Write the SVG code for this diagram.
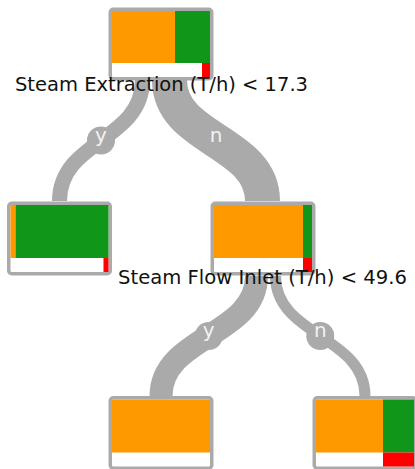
<svg xmlns="http://www.w3.org/2000/svg" width="415" height="469" viewBox="0 0 415 469">
  <style>
    .edge { fill: none; stroke: #aaaaaa; stroke-linecap: butt; }
    .knot { fill: #aaaaaa; }
    .edge-label { font-family: "DejaVu Sans", Verdana, sans-serif; font-size: 20px; fill: #f2f2f2; text-anchor: middle; }
    .frame { fill: #ffffff; stroke: #aaaaaa; stroke-width: 3.5; }
    .c-a { fill: #ff9900; }
    .c-b { fill: #109618; }
    .c-c { fill: #ff0000; }
    .split { font-family: "DejaVu Sans", Verdana, sans-serif; font-size: 19.5px; fill: #111111; }
  </style>

  <!-- connectors: stroke width follows the sample count of each branch -->
  <g id="connectors">
    <path class="edge" stroke-width="15" d="M142.5,80 C142.5,140.5 59.5,140.5 59.5,201"/>
    <path class="edge" stroke-width="35" d="M169.5,80 C169.5,140.5 262.5,140.5 262.5,201"/>
    <path class="edge" stroke-width="23" d="M256.5,276 C256.5,336 161,336 161,396"/>
    <path class="edge" stroke-width="11" d="M275.5,276 C275.5,336 365,336 365,396"/>
    <circle class="knot" cx="101" cy="140.5" r="14"/>
    <circle class="knot" cx="216" cy="140.5" r="14"/>
    <circle class="knot" cx="208.75" cy="336" r="14"/>
    <circle class="knot" cx="320.25" cy="336" r="14"/>
    <text class="edge-label" x="101" y="141.5">y</text>
    <text class="edge-label" x="216" y="141.5">n</text>
    <text class="edge-label" x="208.75" y="337">y</text>
    <text class="edge-label" x="320.25" y="337">n</text>
  </g>

  <!-- root split -->
  <g id="node-root">
    <rect class="frame" x="110.25" y="9.25" width="101.5" height="69.5" rx="3"/>
    <rect class="c-a" x="112" y="11" width="63" height="52"/>
    <rect class="c-b" x="175" y="11" width="35" height="52"/>
    <rect class="c-c" x="202" y="63" width="8" height="14"/>
    <text class="split" x="15" y="91" textLength="293" lengthAdjust="spacingAndGlyphs">Steam Extraction (T/h) &lt; 17.3</text>
  </g>

  <!-- left leaf -->
  <g id="node-left">
    <rect class="frame" x="8.75" y="203.25" width="101.5" height="70.5" rx="3"/>
    <rect class="c-a" x="10.5" y="205" width="5" height="53"/>
    <rect class="c-b" x="15.5" y="205" width="93" height="53"/>
    <rect class="c-c" x="103.5" y="258" width="5" height="14"/>
  </g>

  <!-- second split -->
  <g id="node-mid">
    <rect class="frame" x="212.25" y="203.25" width="101.5" height="70.5" rx="3"/>
    <rect class="c-a" x="214" y="205" width="89" height="53"/>
    <rect class="c-b" x="303" y="205" width="9" height="53"/>
    <rect class="c-c" x="303" y="258" width="9" height="14"/>
    <text class="split" x="118" y="284" textLength="289" lengthAdjust="spacingAndGlyphs">Steam Flow Inlet (T/h) &lt; 49.6</text>
  </g>

  <!-- bottom-left leaf -->
  <g id="node-bottom-left">
    <rect class="frame" x="110.25" y="397.75" width="101.5" height="70.5" rx="3"/>
    <rect class="c-a" x="112" y="399.5" width="98" height="53"/>
  </g>

  <!-- bottom-right leaf -->
  <g id="node-bottom-right">
    <rect class="frame" x="314.25" y="397.75" width="101.5" height="70.5" rx="3"/>
    <rect class="c-a" x="316" y="399.5" width="67" height="53"/>
    <rect class="c-b" x="383" y="399.5" width="31" height="53"/>
    <rect class="c-c" x="383" y="452.5" width="31" height="14"/>
  </g>
</svg>
